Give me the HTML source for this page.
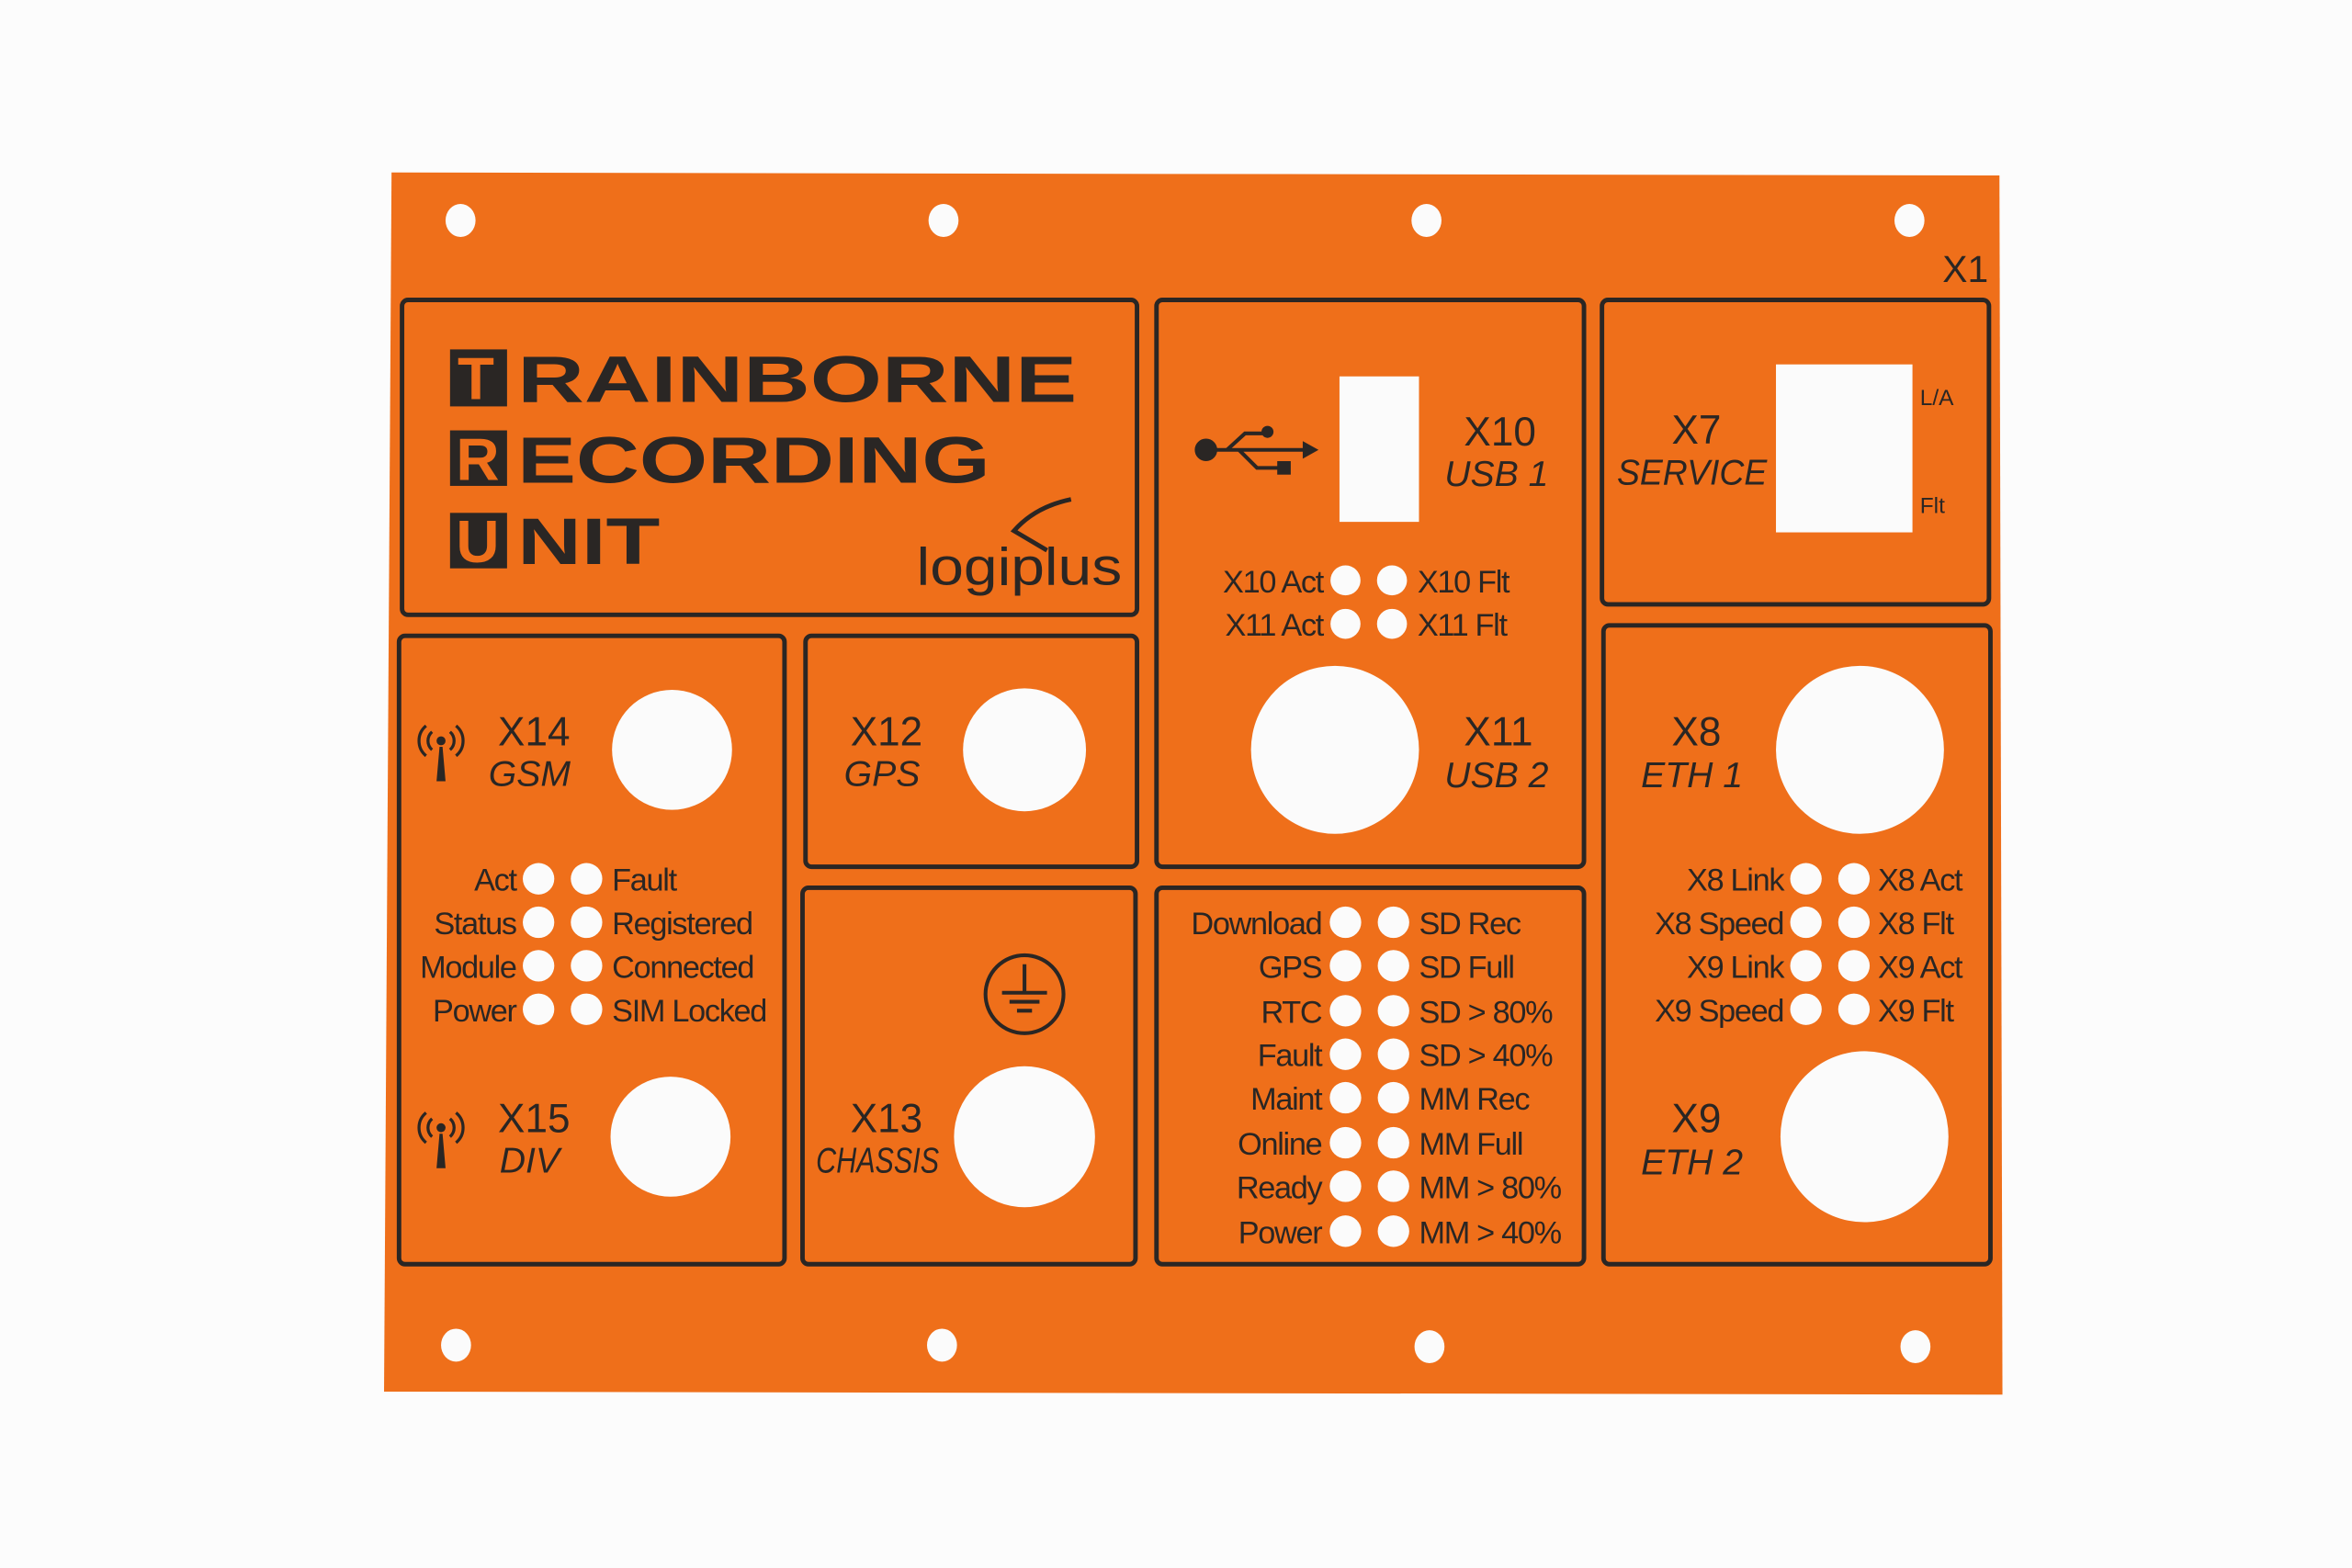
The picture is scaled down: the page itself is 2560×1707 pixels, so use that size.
<!DOCTYPE html>
<html><head><meta charset="utf-8"><style>
html,body{margin:0;padding:0;background:#fcfcfc;}
svg{display:block;}
text{font-family:"Liberation Sans",sans-serif;fill:#2a2624;}
.l{font-size:21px;letter-spacing:-0.8px;}
.b{font-size:27px;}
.i{font-size:24px;font-style:italic;}
</style></head><body>
<svg width="2560" height="1707" viewBox="0 0 1568 1045.6" xmlns="http://www.w3.org/2000/svg">
<rect width="1568" height="1046" fill="#fcfcfc"/>
<polygon points="261,115 1333,117 1335,930 256,928" fill="#ef6f1a"/>
<g fill="#fbfbfb">
<ellipse cx="307" cy="147" rx="10" ry="11"/><ellipse cx="629" cy="147" rx="10" ry="11"/><ellipse cx="951" cy="147" rx="10" ry="11"/><ellipse cx="1273" cy="147" rx="10" ry="11"/>
<ellipse cx="304" cy="897" rx="10" ry="11"/><ellipse cx="628" cy="897" rx="10" ry="11"/><ellipse cx="953" cy="898" rx="10" ry="11"/><ellipse cx="1277" cy="898" rx="10" ry="11"/>
</g>
<text x="1295" y="188" font-size="25">X1</text>
<g fill="none" stroke="#2a2624" stroke-width="3">
<rect x="268" y="200" width="490" height="210" rx="4"/>
<rect x="266" y="424" width="257" height="419" rx="4"/>
<rect x="537" y="424" width="221" height="154" rx="4"/>
<rect x="535" y="592" width="222" height="251" rx="4"/>
<rect x="771" y="200" width="285" height="378" rx="4"/>
<rect x="771" y="592" width="285" height="251" rx="4"/>
<rect x="1068" y="200" width="258" height="203" rx="4"/>
<rect x="1069" y="417" width="258" height="426" rx="4"/>
</g>
<g fill="#2a2624">
<rect x="300" y="233" width="38" height="38"/><rect x="300" y="287" width="38" height="37"/><rect x="300" y="342" width="38" height="37"/>
</g>
<g font-weight="bold" font-size="44">
<text x="305" y="266" style="fill:#ef6f1a" font-size="40">T</text>
<text x="304" y="320" style="fill:#ef6f1a" font-size="40">R</text>
<text x="304" y="375" style="fill:#ef6f1a" font-size="40">U</text>
<text x="345" y="268" textLength="373" lengthAdjust="spacingAndGlyphs">RAINBORNE</text>
<text x="345" y="322" textLength="315" lengthAdjust="spacingAndGlyphs">ECORDING</text>
<text x="345" y="376" textLength="95" lengthAdjust="spacingAndGlyphs">NIT</text>
</g>
<text x="611" y="390" font-size="35" textLength="137" lengthAdjust="spacingAndGlyphs">logiplus</text>
<path d="M714,333 Q690,338 676,354 L698,367" fill="none" stroke="#2a2624" stroke-width="3"/>
<g fill="#2a2624" stroke="#2a2624">
<circle cx="804" cy="300" r="7"/><line x1="804" y1="300" x2="870" y2="300" stroke-width="2.5"/>
<polygon points="869,295 878,300 869,305"/>
<polyline points="818,300 830,289 842,289" fill="none" stroke-width="2.5"/><circle cx="845" cy="288" r="3.5"/>
<polyline points="826,300 838,312 852,312" fill="none" stroke-width="2.5"/><rect x="852" y="308" width="8" height="8"/>
</g>
<rect x="893" y="251" width="53" height="97" fill="#fbfbfb"/>
<text x="976" y="297" class="b">X10</text>
<text x="963" y="324" class="i">USB 1</text>
<g fill="#fbfbfb"><circle cx="897" cy="387" r="10"/><circle cx="928" cy="387" r="10"/><circle cx="897" cy="416" r="10"/><circle cx="928" cy="416" r="10"/>
<circle cx="890" cy="500" r="56"/></g>
<g class="l" text-anchor="end"><text x="882" y="395">X10 Act</text><text x="882" y="424">X11 Act</text></g>
<g class="l"><text x="945" y="395">X10 Flt</text><text x="945" y="424">X11 Flt</text></g>
<text x="976" y="497" class="b">X11</text>
<text x="963" y="525" class="i">USB 2</text>
<rect x="1184" y="243" width="91" height="112" fill="#fbfbfb"/>
<text x="1131" y="296" class="b" text-anchor="middle">X7</text>
<text x="1128" y="323" class="i" text-anchor="middle" textLength="100" lengthAdjust="spacingAndGlyphs">SERVICE</text>
<text x="1280" y="270" font-size="15">L/A</text>
<text x="1280" y="342" font-size="15">Flt</text>
<g fill="#fbfbfb"><circle cx="1240" cy="500" r="56"/><ellipse cx="1243" cy="758" rx="56" ry="57"/></g>
<text x="1131" y="497" class="b" text-anchor="middle">X8</text>
<text x="1128" y="525" class="i" text-anchor="middle">ETH 1</text>
<text x="1131" y="755" class="b" text-anchor="middle">X9</text>
<text x="1128" y="783" class="i" text-anchor="middle">ETH 2</text>
<g fill="#fbfbfb">
<circle cx="1204" cy="586" r="10.5"/><circle cx="1236" cy="586" r="10.5"/>
<circle cx="1204" cy="615" r="10.5"/><circle cx="1236" cy="615" r="10.5"/>
<circle cx="1204" cy="644" r="10.5"/><circle cx="1236" cy="644" r="10.5"/>
<circle cx="1204" cy="673" r="10.5"/><circle cx="1236" cy="673" r="10.5"/>
</g>
<g class="l" text-anchor="end"><text x="1189" y="594">X8 Link</text><text x="1189" y="623">X8 Speed</text><text x="1189" y="652">X9 Link</text><text x="1189" y="681">X9 Speed</text></g>
<g class="l"><text x="1252" y="594">X8 Act</text><text x="1252" y="623">X8 Flt</text><text x="1252" y="652">X9 Act</text><text x="1252" y="681">X9 Flt</text></g>
<g fill="#2a2624" stroke="#2a2624" stroke-width="2">
<polygon points="291,521 297,521 295,498 293,498" stroke="none"/>
<circle cx="294" cy="494" r="3" stroke="none"/>
<path d="M288,488 a8,8 0 0,0 0,12 M300,488 a8,8 0 0,1 0,12 M284,484 a13,13 0 0,0 0,20 M304,484 a13,13 0 0,1 0,20" fill="none"/>
<polygon points="291,779 297,779 295,756 293,756" stroke="none"/>
<circle cx="294" cy="752" r="3" stroke="none"/>
<path d="M288,746 a8,8 0 0,0 0,12 M300,746 a8,8 0 0,1 0,12 M284,742 a13,13 0 0,0 0,20 M304,742 a13,13 0 0,1 0,20" fill="none"/>
</g>
<text x="356" y="497" class="b" text-anchor="middle">X14</text>
<text x="353" y="524" class="i" text-anchor="middle">GSM</text>
<text x="356" y="755" class="b" text-anchor="middle">X15</text>
<text x="353" y="782" class="i" text-anchor="middle">DIV</text>
<g fill="#fbfbfb"><circle cx="448" cy="500" r="40"/><circle cx="447" cy="758" r="40"/>
<circle cx="359" cy="586" r="10.5"/><circle cx="391" cy="586" r="10.5"/>
<circle cx="359" cy="615" r="10.5"/><circle cx="391" cy="615" r="10.5"/>
<circle cx="359" cy="644" r="10.5"/><circle cx="391" cy="644" r="10.5"/>
<circle cx="359" cy="673" r="10.5"/><circle cx="391" cy="673" r="10.5"/>
</g>
<g class="l" text-anchor="end"><text x="344" y="594">Act</text><text x="344" y="623">Status</text><text x="344" y="652">Module</text><text x="344" y="681">Power</text></g>
<g class="l"><text x="408" y="594">Fault</text><text x="408" y="623">Registered</text><text x="408" y="652">Connected</text><text x="408" y="681">SIM Locked</text></g>
<text x="591" y="497" class="b" text-anchor="middle">X12</text>
<text x="588" y="524" class="i" text-anchor="middle">GPS</text>
<circle cx="683" cy="500" r="41" fill="#fbfbfb"/>
<circle cx="683" cy="663" r="26" fill="none" stroke="#2a2624" stroke-width="2.5"/>
<g stroke="#2a2624" stroke-width="2.5"><line x1="683" y1="643" x2="683" y2="662"/><line x1="668" y1="662" x2="698" y2="662"/><line x1="673" y1="668" x2="693" y2="668"/><line x1="678" y1="674" x2="688" y2="674"/></g>
<text x="591" y="755" class="b" text-anchor="middle">X13</text>
<text x="544" y="782" class="i" textLength="82" lengthAdjust="spacingAndGlyphs">CHASSIS</text>
<circle cx="683" cy="758" r="47" fill="#fbfbfb"/>
<g fill="#fbfbfb">
<circle cx="897" cy="615" r="10.5"/><circle cx="929" cy="615" r="10.5"/>
<circle cx="897" cy="644" r="10.5"/><circle cx="929" cy="644" r="10.5"/>
<circle cx="897" cy="674" r="10.5"/><circle cx="929" cy="674" r="10.5"/>
<circle cx="897" cy="703" r="10.5"/><circle cx="929" cy="703" r="10.5"/>
<circle cx="897" cy="732" r="10.5"/><circle cx="929" cy="732" r="10.5"/>
<circle cx="897" cy="762" r="10.5"/><circle cx="929" cy="762" r="10.5"/>
<circle cx="897" cy="791" r="10.5"/><circle cx="929" cy="791" r="10.5"/>
<circle cx="897" cy="821" r="10.5"/><circle cx="929" cy="821" r="10.5"/>
</g>
<g class="l" text-anchor="end"><text x="881" y="623">Download</text><text x="881" y="652">GPS</text><text x="881" y="682">RTC</text><text x="881" y="711">Fault</text><text x="881" y="740">Maint</text><text x="881" y="770">Online</text><text x="881" y="799">Ready</text><text x="881" y="829">Power</text></g>
<g class="l"><text x="946" y="623">SD Rec</text><text x="946" y="652">SD Full</text><text x="946" y="682">SD &gt; 80%</text><text x="946" y="711">SD &gt; 40%</text><text x="946" y="740">MM Rec</text><text x="946" y="770">MM Full</text><text x="946" y="799">MM &gt; 80%</text><text x="946" y="829">MM &gt; 40%</text></g>
</svg>
</body></html>
